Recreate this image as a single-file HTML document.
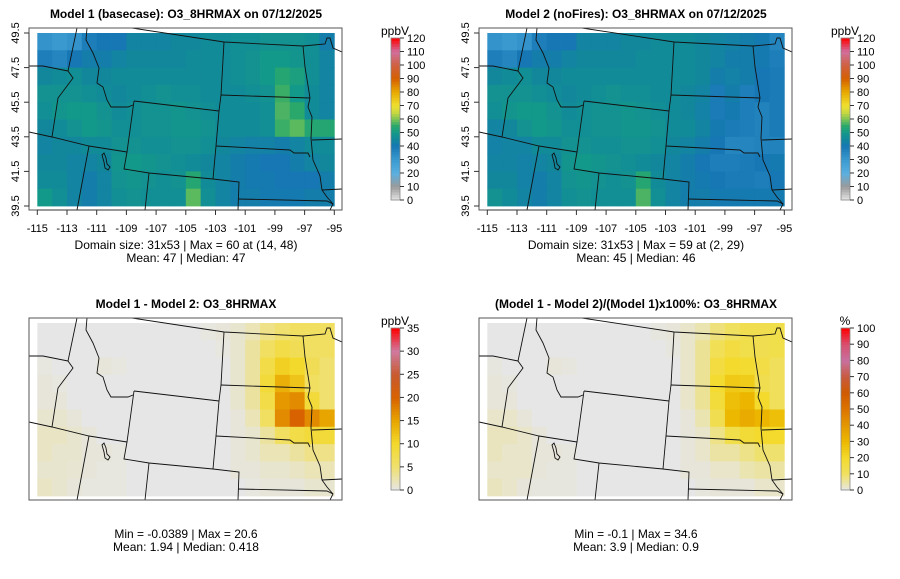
<!DOCTYPE html>
<html><head><meta charset="utf-8"><style>
body{margin:0;background:#fff;}
svg{display:block;font-family:"Liberation Sans",sans-serif;}
</style></head><body>
<svg id="fig" width="900" height="579" xmlns="http://www.w3.org/2000/svg"></svg>
<script>
const lons=[-115,-114,-113,-112,-111,-110,-109,-108,-107,-106,-105,-104,-103,-102,-101,-100,-99,-98,-97,-96];
const lats=[49.5,48.5,47.5,46.5,45.5,44.5,43.5,42.5,41.5,40.5];
const model1=[
[32,30,32,38,40,40,44,44,44,45,45,46,46,47,47,48,48,48,47,42],
[38,36,40,42,42,44,45,45,45,45,46,46,46,47,48,50,50,49,47,44],
[45,46,47,45,45,46,46,46,46,46,46,46,46,47,48,50,54,52,47,44],
[48,48,48,47,46,45,46,47,48,47,47,46,46,46,47,48,56,50,46,44],
[47,49,50,50,48,46,47,48,48,49,48,47,46,46,46,47,57,55,46,44],
[45,46,48,50,49,47,47,48,48,49,49,48,46,46,46,47,56,58,54,54],
[44,45,45,46,46,48,48,47,47,48,48,47,45,44,43,43,42,44,46,46],
[45,45,44,44,45,49,50,49,48,47,46,45,44,42,41,40,40,42,44,45],
[46,46,44,42,44,48,49,48,47,48,54,46,44,42,41,41,40,40,40,42],
[50,47,44,42,44,47,48,47,47,47,58,47,44,42,42,41,41,41,42,42]];
const model2=[
[32,30,32,38,40,40,44,44,44,45,45,46,46,46,45,44,43,42,41,36],
[38,36,40,42,42,44,45,45,45,45,46,46,46,46,45,44,42,42,41,38],
[45,46,47,45,45,46,46,46,46,46,46,46,46,46,45,42,43,42,40,39],
[48,48,48,47,46,45,46,47,48,47,47,46,46,45,44,39,42,38,40,39],
[47,49,50,50,48,46,47,48,48,49,48,47,46,45,43,39,41,38,37,39],
[44,45,48,50,49,47,47,48,48,49,49,48,46,46,44,41,39,38,37,39],
[43,44,44,46,46,48,48,47,47,48,48,47,45,44,42,40,36,36,37,37],
[44,44,43,44,45,49,50,49,48,47,46,45,44,42,40,38,38,39,40,41],
[45,45,43,42,44,48,49,48,47,48,54,46,44,42,41,40,39,39,38,40],
[48,46,44,42,44,47,48,47,47,47,57,47,44,42,42,41,41,41,41,41]];
const diffVals=[
[0,0,0,0,0,0,0,0,0,0,0,0.3,0.5,1,2,4,5,6,6,6],
[0,0,0,0,0,0,0,0,0,0,0,0,0.3,1,3,6,8,7,6,6],
[0.3,0,0,0,0.5,0.3,0,0,0,0,0,0,0,1,3,8,11,10,7,5],
[0.5,0.3,0,0,0,0,0,0,0,0,0,0,0,1,3,9,14,12,6,5],
[0.5,0.5,0,0,0,0,0,0,0,0,0,0,0,1,3,8,16,17,9,5],
[1,1,0.5,0,0,0,0,0,0,0,0,0,0,0.5,2,6,17,20,17,15],
[1.5,1.5,1,0.5,0,0,0,0,0,0,0,0,0,0.5,1,3,6,8,9,9],
[1.5,1,1,0.5,0.5,0.3,0,0,0,0,0,0,0,0.5,1,2,2,3,4,4],
[1,1,0.8,0.5,0.3,0.3,0,0,0,0,0,0,0,0.5,0.5,1,1,1.5,2,2],
[1.5,1,0.5,0.3,0.3,0.3,0,0,0,0,0,0,0,0,0.3,0.5,0.5,0.5,1,1]];
const pctVals=[
[0,0,0,0,0,0,0,0,0,0,0,0.6,1,2,4,8,10,13,13,14],
[0,0,0,0,0,0,0,0,0,0,0,0,0.6,2,6,12,16,14,13,14],
[0.6,0,0,0,1,0.6,0,0,0,0,0,0,0,2,6,16,20,19,15,11],
[1,0.6,0,0,0,0,0,0,0,0,0,0,0,2,6,19,25,24,13,11],
[1,1,0,0,0,0,0,0,0,0,0,0,0,2,6,17,28,31,20,11],
[2,2,1,0,0,0,0,0,0,0,0,0,0,1,4,13,30,34,31,28],
[3,3,2,1,0,0,0,0,0,0,0,0,0,1,2,7,14,18,20,20],
[3,2,2,1,1,0.6,0,0,0,0,0,0,0,1,2,5,5,7,9,9],
[2,2,2,1,0.6,0.6,0,0,0,0,0,0,0,1,1,2,2,4,5,5],
[3,2,1,0.6,0.6,0.6,0,0,0,0,0,0,0,0,0.7,1,1,1,2,2]];
const lonTicks=[-115,-113,-111,-109,-107,-105,-103,-101,-99,-97,-95];
const latTicks=[49.5,47.5,45.5,43.5,41.5,39.5];
const o3Ticks=[0,10,20,30,40,50,60,70,80,90,100,110,120];
const diffTicks=[0,5,10,15,20,25,30,35];
const pctTicks=[0,10,20,30,40,50,60,70,80,90,100];

const NS='http://www.w3.org/2000/svg';
const svg=document.getElementById('fig');
function mk(tag,attrs,parent,text){const e=document.createElementNS(NS,tag);for(const k in attrs)e.setAttribute(k,attrs[k]);if(text!==undefined)e.textContent=text;(parent||svg).appendChild(e);return e;}
function hex(c){return[parseInt(c.slice(1,3),16),parseInt(c.slice(3,5),16),parseInt(c.slice(5,7),16)];}
function ramp(stops,v){
  if(v<=stops[0][0])return stops[0][1];
  for(let i=1;i<stops.length;i++){if(v<=stops[i][0]){const a=stops[i-1],b=stops[i];const t=(v-a[0])/(b[0]-a[0]);const A=hex(a[1]),B=hex(b[1]);return 'rgb('+A.map((x,j)=>Math.round(x+(B[j]-x)*t)).join(',')+')';}}
  return stops[stops.length-1][1];
}
const o3Stops=[[0,'#e6e6e6'],[10,'#9a9a9a'],[20,'#5ab0e0'],[30,'#3a9ad0'],[40,'#1677b4'],[45,'#12879c'],[50,'#13998a'],[55,'#2aa86c'],[60,'#7cc455'],[65,'#c8d840'],[70,'#f0e030'],[80,'#e8aa00'],[90,'#d66000'],[100,'#d06040'],[110,'#d070a0'],[120,'#ff0000']];
const diffStops=[[0,'#e6e6e6'],[5,'#f0e070'],[10,'#f3d92c'],[15,'#e8a500'],[20,'#d86200'],[25,'#c85a30'],[30,'#d07aa0'],[35,'#ff0000']];
const pctStops=[[0,'#e6e6e6'],[10,'#f0e060'],[20,'#f3da2c'],[30,'#ecb800'],[40,'#e49800'],[50,'#dc7400'],[60,'#d05a00'],[70,'#c85a40'],[80,'#c870a0'],[90,'#d85070'],[100,'#ff0000']];

// borders in panel-local pixel coords
const borders=[
[[77,28],[68,71],[73,78],[58,98],[52,137]],
[[29,66],[43,66],[68,71]],
[[29,132],[52,137],[89,146],[127,152]],
[[87,28],[86,40],[93,53],[99,68],[97,83],[103,87],[107,100],[111,107],[128,107],[133,105]],
[[134,101],[219,111]],
[[134,101],[127,152],[124,169],[149,173],[213,179]],
[[89,146],[77,210]],
[[149,173],[145,210]],
[[213,179],[239,182],[238,210]],
[[238,199],[327,201],[333,204],[330,210]],
[[132,28],[224,42],[303,46],[325,44],[327,38],[330,38],[333,48],[342,52]],
[[224,42],[221,95],[219,111],[216,146],[213,179]],
[[221,95],[310,98]],
[[303,46],[305,67],[310,98],[308,107],[312,117],[311,138],[313,160],[320,176],[322,190],[327,197],[333,204]],
[[216,146],[290,150],[294,153],[308,153],[310,157]],
[[312,140],[342,139]],
[[322,190],[342,189]]];
const lake=[[102,155],[104,153],[106,158],[107,164],[110,167],[108,170],[105,168],[104,162]];

function panel(ox,oy,vals,stops,ticks,unit,title,line1,line2,showAxes,key){
  const g=mk('g',{transform:'translate('+ox+','+oy+')'});
  
  
  const xs=lon=>37.3+(lon+115)*14.85;
  const ys=lat=>33+(49.5-lat)*17.3;
  const cid='clip-'+key;
  const cp=mk('clipPath',{id:cid},g);mk('rect',{x:29,y:28,width:313,height:182},cp);
  const hm=mk('g',{},g);
  
  
  for(let r=0;r<lats.length;r++)for(let c=0;c<lons.length;c++){
    const x0=xs(lons[c]),x1=xs(lons[c]+1),y0=ys(lats[r]),y1=ys(lats[r]-1);
    const cell=mk('rect',{x:x0.toFixed(2),y:y0.toFixed(2),width:(x1-x0+0.4).toFixed(2),height:(y1-y0+0.4).toFixed(2),fill:ramp(stops,vals[r][c])},hm);
    
    
  }
  const bg=mk('g',{'clip-path':'url(#'+cid+')',fill:'none',stroke:'#111','stroke-width':0.9},g);
  
  
  borders.forEach(b=>mk('polyline',{points:b.map(p=>p.join(',')).join(' ')},bg));
  mk('polygon',{points:lake.map(p=>p.join(',')).join(' ')},bg);
  const box=mk('rect',{x:29,y:28,width:313,height:182,fill:'none',stroke:'#555','stroke-width':1},g);
  
  
  const t=mk('text',{x:186,y:18,'text-anchor':'middle','font-size':12,'font-weight':'bold'},g,title);
  
  
  if(showAxes){
    const ax=mk('g',{},g);
    
    
    mk('line',{x1:xs(-115),x2:xs(-95),y1:210,y2:210,stroke:'#333'},ax);
    lonTicks.forEach(l=>{mk('line',{x1:xs(l),x2:xs(l),y1:210,y2:215,stroke:'#333'},ax);
      mk('text',{x:xs(l),y:232,'text-anchor':'middle','font-size':11},ax,String(l));});
    const ay=mk('g',{},g);
    
    
    mk('line',{x1:29,x2:29,y1:ys(49.5),y2:ys(39.5),stroke:'#333'},ay);
    latTicks.forEach(l=>{mk('line',{x1:24,x2:29,y1:ys(l),y2:ys(l),stroke:'#333'},ay);
      mk('text',{x:0,y:0,transform:'translate(19,'+ys(l)+') rotate(-90)','text-anchor':'middle','font-size':11},ay,l.toFixed(1));});
  }
  const s1=mk('text',{x:186,y:showAxes?249:248,'text-anchor':'middle','font-size':12},g,line1);
  
  
  const s2=mk('text',{x:186,y:showAxes?262:261,'text-anchor':'middle','font-size':12},g,line2);
  
  
  // colorbar
  const cb=mk('g',{},g);
  
  
  const lo=ticks[0],hi=ticks[ticks.length-1],yb=200,yt=38;
  const cy=v=>yb-(v-lo)/(hi-lo)*(yb-yt);
  for(let i=0;i<60;i++){const v0=lo+(hi-lo)*i/60,v1=lo+(hi-lo)*(i+1)/60;
    mk('rect',{x:391,y:cy(v1),width:9,height:cy(v0)-cy(v1)+0.5,fill:ramp(stops,(v0+v1)/2)},cb);}
  mk('rect',{x:391,y:yt,width:9,height:yb-yt,fill:'none',stroke:'#888','stroke-width':0.8},cb);
  ticks.forEach(v=>{mk('line',{x1:400,x2:404,y1:cy(v),y2:cy(v),stroke:'#333'},cb);
    mk('text',{x:407,y:cy(v)+4,'font-size':11},cb,String(v));});
  const u=mk('text',{x:395,y:35,'text-anchor':'middle','font-size':12},cb,unit);
  
  
}
panel(0,0,model1,o3Stops,o3Ticks,'ppbV','Model 1 (basecase): O3_8HRMAX on 07/12/2025','Domain size: 31x53 | Max = 60 at (14, 48)','Mean: 47 |  Median: 47',true,'model1');
panel(450,0,model2,o3Stops,o3Ticks,'ppbV','Model 2 (noFires): O3_8HRMAX on 07/12/2025','Domain size: 31x53 | Max = 59 at (2, 29)','Mean: 45 |  Median: 46',true,'model2');
panel(0,290,diffVals,diffStops,diffTicks,'ppbV','Model 1 - Model 2: O3_8HRMAX','Min = -0.0389 | Max = 20.6','Mean: 1.94 |  Median: 0.418',false,'diff');
panel(450,290,pctVals,pctStops,pctTicks,'%','(Model 1 - Model 2)/(Model 1)x100%: O3_8HRMAX','Min = -0.1 | Max = 34.6','Mean: 3.9 |  Median: 0.9',false,'pct');
</script>
</body></html>
